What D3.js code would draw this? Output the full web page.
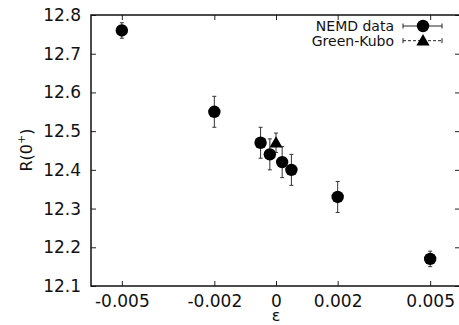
<!DOCTYPE html>
<html>
<head>
<meta charset="utf-8">
<script src="https://cdn.jsdelivr.net/npm/d3@7"></script>
<style>
  body { margin: 0; background: #fff; }
  svg { display: block; }
  text { font-family: "DejaVu Sans", sans-serif; fill: #111; }
</style>
</head>
<body>
<div id="chart"></div>
<script>
// NEMD data
var nemdEps = [-0.005, -0.002, -0.0005, -0.0002, 0.0002, 0.0005, 0.002, 0.005];
var nemdR = [12.76, 12.55, 12.47, 12.44, 12.42, 12.40, 12.33, 12.17];
var nemdErr = [0.02, 0.04, 0.04, 0.04, 0.04, 0.04, 0.04, 0.02];
// Green-Kubo
var gkEps = [0];
var gkR = [12.47];
var gkErr = [0.025];

var xTicks = [-0.005, -0.002, 0, 0.002, 0.005];
var xTickLabels = ["-0.005", "-0.002", "0", "0.002", "0.005"];
var yTicks = [12.1, 12.2, 12.3, 12.4, 12.5, 12.6, 12.7, 12.8];

var width = 459, height = 325;
var plotLeft = 91, plotRight = 461, plotTop = 15, plotBottom = 286;

var svg = d3.select("#chart").append("svg")
  .attr("width", width)
  .attr("height", height);

var x = d3.scaleLinear().domain([-0.006, 0.006]).range([plotLeft, plotRight]);
var y = d3.scaleLinear().domain([12.1, 12.8]).range([plotBottom, plotTop]);

var nemd = nemdEps.map(function (e, i) { return { e: e, r: nemdR[i], err: nemdErr[i] }; });
var gk = gkEps.map(function (e, i) { return { e: e, r: gkR[i], err: gkErr[i] }; });

// axes, ticks inward on all four sides
svg.append("g")
  .attr("transform", "translate(0," + plotBottom + ")")
  .call(d3.axisBottom(x).tickValues(xTicks).tickSizeInner(-5).tickSizeOuter(0).tickPadding(9)
    .tickFormat(function (d, i) { return xTickLabels[i]; }))
  .call(function (g) { g.select(".domain").remove(); });

svg.append("g")
  .attr("transform", "translate(0," + plotTop + ")")
  .call(d3.axisTop(x).tickValues(xTicks).tickSizeInner(-5).tickSizeOuter(0).tickFormat(""))
  .call(function (g) { g.select(".domain").remove(); });

svg.append("g")
  .attr("transform", "translate(" + plotLeft + ",0)")
  .call(d3.axisLeft(y).tickValues(yTicks).tickSizeInner(-5).tickSizeOuter(0).tickPadding(10)
    .tickFormat(d3.format(".1f")))
  .call(function (g) { g.select(".domain").remove(); });

svg.append("g")
  .attr("transform", "translate(" + (plotRight - 1) + ",0)")
  .call(d3.axisRight(y).tickValues(yTicks).tickSizeInner(-5).tickSizeOuter(0).tickFormat(""))
  .call(function (g) { g.select(".domain").remove(); });

svg.selectAll(".tick text")
  .style("font-family", "'DejaVu Sans', sans-serif")
  .style("font-size", "17px")
  .attr("fill", "#111");
svg.selectAll(".tick line").attr("stroke", "#222");

svg.append("rect")
  .attr("x", plotLeft).attr("y", plotTop)
  .attr("width", plotRight - plotLeft).attr("height", plotBottom - plotTop)
  .attr("fill", "none").attr("stroke", "#111").attr("stroke-width", 1.5);

// axis titles
svg.append("text")
  .attr("transform", "translate(32,150) rotate(-90)")
  .attr("text-anchor", "middle")
  .style("font-size", "16px")
  .html("R(0<tspan dy='-7' font-size='11px'>+</tspan><tspan dy='7'>)</tspan>");

svg.append("text")
  .attr("x", x(0)).attr("y", 321)
  .attr("text-anchor", "middle")
  .style("font-size", "16px")
  .text("ε");

// error bars
function errorBars(data, cls) {
  var g = svg.append("g").attr("class", cls)
    .attr("stroke", "#333").attr("stroke-width", 1);
  g.selectAll("line.v").data(data).enter().append("line")
    .attr("x1", function (d) { return x(d.e); })
    .attr("x2", function (d) { return x(d.e); })
    .attr("y1", function (d) { return y(d.r - d.err); })
    .attr("y2", function (d) { return y(d.r + d.err); });
  [-1, 1].forEach(function (s) {
    g.selectAll("line.c" + s).data(data).enter().append("line")
      .attr("x1", function (d) { return x(d.e) - 2; })
      .attr("x2", function (d) { return x(d.e) + 2; })
      .attr("y1", function (d) { return y(d.r + s * d.err); })
      .attr("y2", function (d) { return y(d.r + s * d.err); });
  });
}
errorBars(nemd, "nemd-err");
errorBars(gk, "gk-err");

var tri = d3.symbol().type(d3.symbolTriangle).size(75);

svg.append("g").selectAll("path").data(gk).enter().append("path")
  .attr("d", tri)
  .attr("transform", function (d) { return "translate(" + x(d.e) + "," + (y(d.r) + 1) + ")"; })
  .attr("fill", "#000");

svg.append("g").selectAll("circle").data(nemd).enter().append("circle")
  .attr("cx", function (d) { return x(d.e); })
  .attr("cy", function (d) { return y(d.r); })
  .attr("r", 6.2)
  .attr("fill", "#000");

// legend
var legend = [
  { label: "NEMD data", dash: null, shape: "circle" },
  { label: "Green-Kubo", dash: "3,2", shape: "triangle" }
];
var lg = svg.append("g");
legend.forEach(function (l, i) {
  var ly = 26 + i * 14.7;
  lg.append("text")
    .attr("x", 394).attr("y", ly + 5)
    .attr("text-anchor", "end")
    .style("font-size", "14px")
    .text(l.label);
  lg.append("line")
    .attr("x1", 403).attr("x2", 442).attr("y1", ly).attr("y2", ly)
    .attr("stroke", "#222").attr("stroke-width", 1)
    .attr("stroke-dasharray", l.dash);
  [403, 442].forEach(function (cx) {
    lg.append("line")
      .attr("x1", cx).attr("x2", cx).attr("y1", ly - 2.5).attr("y2", ly + 2.5)
      .attr("stroke", "#222").attr("stroke-width", 1);
  });
  if (l.shape === "circle") {
    lg.append("circle").attr("cx", 423).attr("cy", ly).attr("r", 6.2).attr("fill", "#000");
  } else {
    lg.append("path").attr("d", tri).attr("transform", "translate(423," + (ly + 1) + ")").attr("fill", "#000");
  }
});
</script>
</body>
</html>
